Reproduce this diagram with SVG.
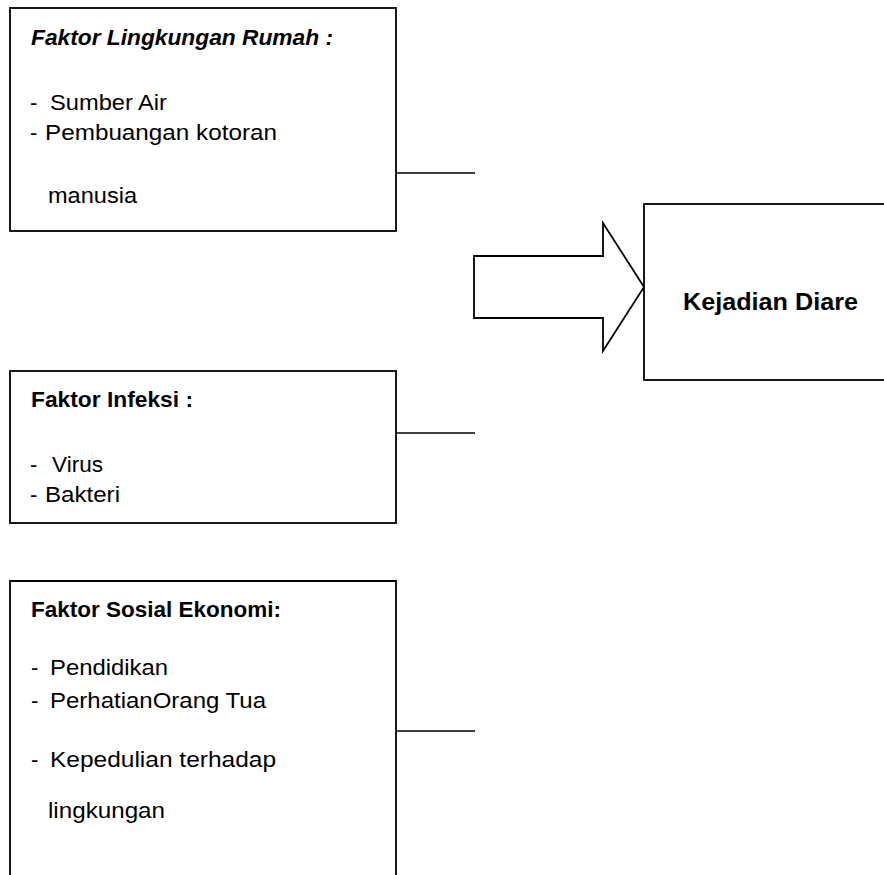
<svg xmlns="http://www.w3.org/2000/svg" width="884" height="875" viewBox="0 0 884 875">
<style>
.box{fill:#fff;stroke:#000;stroke-width:1.8}
.con{fill:none;stroke:#000;stroke-width:1.4}
text{font-family:"Liberation Sans","DejaVu Sans",sans-serif;font-size:22px;fill:#000}
.b{font-weight:bold}
.bi{font-weight:bold;font-style:italic}
.big{font-size:23px}
</style>
<rect width="884" height="875" fill="#fff"/>
<g id="connectors">
<line class="con" x1="396" y1="173" x2="475" y2="173"/>
<line class="con" x1="396" y1="433" x2="475" y2="433"/>
<line class="con" x1="396" y1="731" x2="475" y2="731"/>
<polygon class="box" points="474,256 603,256 603,223 644,287 603,351 603,318 474,318"/>
</g>
<g id="node-lingkungan">
<rect class="box" x="10" y="8" width="386" height="223"/>
<text class="bi" x="31" y="45" textLength="302" lengthAdjust="spacingAndGlyphs">Faktor Lingkungan Rumah :</text>
<text x="30" y="110">-</text>
<text x="50" y="110" textLength="117" lengthAdjust="spacingAndGlyphs">Sumber Air</text>
<text x="30" y="140">-</text>
<text x="45" y="140" textLength="232" lengthAdjust="spacingAndGlyphs">Pembuangan kotoran</text>
<text x="48" y="203" textLength="89" lengthAdjust="spacingAndGlyphs">manusia</text>
</g>
<g id="node-infeksi">
<rect class="box" x="10" y="371" width="386" height="152"/>
<text class="b" x="31" y="407" textLength="162" lengthAdjust="spacingAndGlyphs">Faktor Infeksi :</text>
<text x="30" y="472">-</text>
<text x="52" y="472" textLength="51" lengthAdjust="spacingAndGlyphs">Virus</text>
<text x="30" y="502">-</text>
<text x="45" y="502" textLength="75" lengthAdjust="spacingAndGlyphs">Bakteri</text>
</g>
<g id="node-sosial">
<path class="box" d="M10,880 V581 H396 V880"/>
<text class="b" x="31" y="617" textLength="250" lengthAdjust="spacingAndGlyphs">Faktor Sosial Ekonomi:</text>
<text x="31" y="675">-</text>
<text x="50" y="675" textLength="118" lengthAdjust="spacingAndGlyphs">Pendidikan</text>
<text x="31" y="708">-</text>
<text x="50" y="708" textLength="216" lengthAdjust="spacingAndGlyphs">PerhatianOrang Tua</text>
<text x="31" y="767">-</text>
<text x="50" y="767" textLength="226" lengthAdjust="spacingAndGlyphs">Kepedulian terhadap</text>
<text x="48" y="818" textLength="117" lengthAdjust="spacingAndGlyphs">lingkungan</text>
</g>
<g id="node-diare">
<rect class="box" x="644" y="204" width="260" height="176"/>
<text class="b big" x="683" y="310" textLength="175" lengthAdjust="spacingAndGlyphs">Kejadian Diare</text>
</g>
</svg>
